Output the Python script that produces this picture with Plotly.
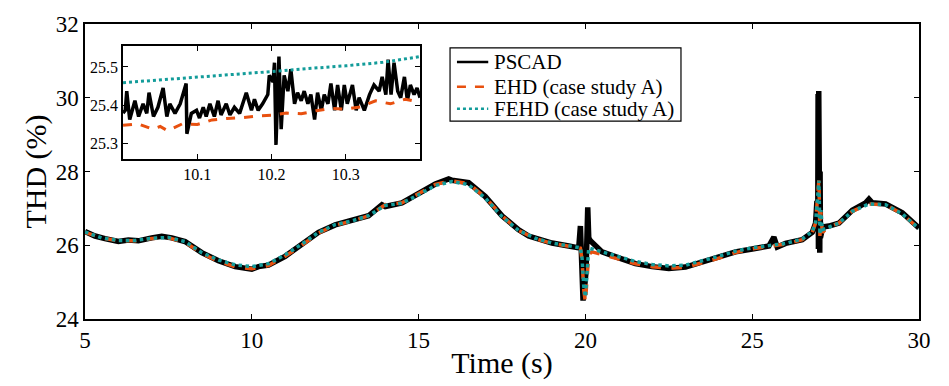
import plotly.graph_objects as go

# ---------------- data ----------------
t_pscad = [5.0, 5.3, 5.6, 6.0, 6.3, 6.6, 7.0, 7.3, 7.6, 8.0, 8.5, 9.0, 9.5, 10.0, 10.2, 10.5,
           11.0, 11.5, 12.0, 12.5, 13.0, 13.5, 13.9, 14.0, 14.5, 15.0, 15.5, 15.9, 16.0, 16.5,
           17.0, 17.5, 18.0, 18.3, 18.5, 19.0, 19.5, 19.8, 19.85, 19.88, 19.93, 19.98, 20.02,
           20.07, 20.1, 20.15, 20.3, 20.5, 21.0, 21.5, 22.0, 22.5, 23.0, 23.5, 24.0, 24.5, 25.0,
           25.5, 25.65, 25.75, 26.0, 26.5, 26.8, 26.9, 26.94, 26.955, 26.965, 26.975, 26.985,
           26.995, 27.005, 27.015, 27.025, 27.035, 27.045, 27.06, 27.08, 27.15, 27.3, 27.6,
           28.0, 28.4, 28.5, 28.6, 29.0, 29.5, 30.0]
thd_pscad = [26.37, 26.25, 26.18, 26.10, 26.14, 26.12, 26.20, 26.24, 26.20, 26.10, 25.80, 25.58,
             25.42, 25.35, 25.42, 25.46, 25.70, 26.02, 26.35, 26.55, 26.67, 26.80, 27.10, 27.05,
             27.15, 27.40, 27.66, 27.80, 27.76, 27.70, 27.32, 26.80, 26.42, 26.25, 26.20, 26.06,
             25.98, 25.93, 26.52, 25.80, 24.50, 24.90, 25.30, 27.03, 26.20, 26.12, 25.98, 25.82,
             25.66, 25.50, 25.42, 25.37, 25.41, 25.54, 25.66, 25.82, 25.90, 25.98, 26.22, 25.95,
             26.05, 26.15, 26.35, 26.60, 27.20, 29.00, 26.50, 30.10, 25.90, 30.18, 25.85, 29.20,
             25.80, 28.00, 26.20, 26.80, 26.35, 26.50, 26.52, 26.60, 26.95, 27.15, 27.25, 27.15,
             27.12, 26.88, 26.47]

t_model = [5.0, 5.5, 6.0, 6.5, 7.0, 7.5, 8.0, 8.5, 9.0, 9.5, 10.0, 10.5, 11.0, 11.5, 12.0, 12.5,
           13.0, 13.5, 14.0, 14.5, 15.0, 15.5, 16.0, 16.5, 17.0, 17.5, 18.0, 18.5, 19.0, 19.5,
           19.85, 19.9, 19.95, 20.0, 20.05, 20.1, 20.2, 20.5, 21.0, 21.5, 22.0, 22.5, 23.0, 23.5,
           24.0, 24.5, 25.0, 25.5, 26.0, 26.5, 26.8, 26.9, 26.95, 27.0, 27.03, 27.06, 27.1, 27.3,
           27.6, 28.0, 28.5, 29.0, 29.5, 30.0]
thd_ehd = [26.35, 26.20, 26.12, 26.12, 26.18, 26.20, 26.08, 25.78, 25.56, 25.42, 25.36, 25.45,
           25.70, 26.00, 26.33, 26.55, 26.65, 26.80, 27.10, 27.15, 27.40, 27.65, 27.75, 27.67,
           27.30, 26.80, 26.40, 26.18, 26.05, 25.97, 25.92, 25.60, 24.80, 24.45, 25.00, 25.75,
           25.82, 25.75, 25.62, 25.50, 25.42, 25.38, 25.40, 25.52, 25.65, 25.80, 25.90, 25.97,
           26.03, 26.15, 26.35, 26.60, 27.30, 27.78, 26.25, 26.90, 26.35, 26.50, 26.60, 26.92,
           27.12, 27.10, 26.85, 26.45]
thd_fehd = [26.36, 26.20, 26.13, 26.13, 26.19, 26.21, 26.10, 25.80, 25.60, 25.47, 25.42, 25.50,
            25.74, 26.03, 26.35, 26.56, 26.66, 26.80, 27.08, 27.14, 27.37, 27.62, 27.73, 27.64,
            27.28, 26.78, 26.40, 26.19, 26.06, 25.98, 25.93, 25.65, 24.90, 24.60, 25.20, 25.92,
            25.90, 25.82, 25.68, 25.56, 25.48, 25.44, 25.46, 25.57, 25.70, 25.84, 25.93, 25.99,
            26.05, 26.17, 26.37, 26.62, 27.30, 27.75, 26.30, 26.95, 26.42, 26.50, 26.60, 26.92,
            27.12, 27.10, 26.85, 26.45]

# inset (zoom 10.0 - 10.4 s)
t_in_pscad = [10.000, 10.003, 10.005, 10.009, 10.016, 10.021, 10.027, 10.032, 10.035, 10.041,
              10.047, 10.054, 10.059, 10.063, 10.070, 10.077, 10.085, 10.086, 10.092, 10.099,
              10.103, 10.108, 10.112, 10.117, 10.123, 10.128, 10.132, 10.139, 10.144, 10.150,
              10.157, 10.166, 10.173, 10.177, 10.182, 10.188, 10.195, 10.197, 10.202, 10.204,
              10.206, 10.210, 10.213, 10.217, 10.222, 10.226, 10.231, 10.235, 10.240, 10.244,
              10.249, 10.253, 10.258, 10.262, 10.267, 10.271, 10.276, 10.280, 10.285, 10.289,
              10.294, 10.298, 10.302, 10.309, 10.314, 10.318, 10.325, 10.332, 10.338, 10.345,
              10.349, 10.354, 10.357, 10.361, 10.365, 10.370, 10.374, 10.379, 10.383, 10.387,
              10.392, 10.396, 10.400]
thd_in_pscad = [25.380, 25.387, 25.437, 25.363, 25.412, 25.371, 25.404, 25.379, 25.433, 25.371,
                25.395, 25.445, 25.371, 25.404, 25.379, 25.404, 25.457, 25.326, 25.379, 25.387,
                25.367, 25.395, 25.371, 25.404, 25.371, 25.412, 25.375, 25.404, 25.375, 25.395,
                25.379, 25.433, 25.387, 25.416, 25.387, 25.404, 25.428, 25.478, 25.461, 25.511,
                25.297, 25.527, 25.338, 25.478, 25.437, 25.494, 25.404, 25.433, 25.412, 25.437,
                25.404, 25.428, 25.363, 25.433, 25.387, 25.428, 25.404, 25.457, 25.387, 25.453,
                25.387, 25.453, 25.404, 25.453, 25.387, 25.420, 25.387, 25.428, 25.453, 25.437,
                25.474, 25.428, 25.519, 25.428, 25.511, 25.437, 25.420, 25.474, 25.412, 25.453,
                25.428, 25.445, 25.420]

t_in_ehd = [10.000, 10.020, 10.040, 10.050, 10.060, 10.080, 10.100, 10.120, 10.140, 10.160,
            10.180, 10.200, 10.220, 10.240, 10.260, 10.280, 10.300, 10.320, 10.340, 10.360,
            10.380, 10.400]
thd_in_ehd = [25.348, 25.352, 25.338, 25.345, 25.334, 25.352, 25.350, 25.362, 25.366, 25.368,
              25.372, 25.374, 25.380, 25.378, 25.386, 25.392, 25.390, 25.396, 25.412, 25.404,
              25.416, 25.408]

t_in_fehd = [10.000, 10.050, 10.100, 10.150, 10.200, 10.250, 10.300, 10.350, 10.400]
thd_in_fehd = [25.459, 25.466, 25.474, 25.480, 25.488, 25.496, 25.503, 25.512, 25.527]

x_ticks = [5, 10, 15, 20, 25, 30]
y_ticks = [24, 26, 28, 30, 32]
x_ticks_in = [10.1, 10.2, 10.3]
y_ticks_in = [25.3, 25.4, 25.5]
series_names = ["PSCAD", "EHD (case study A)", "FEHD (case study A)"]

# ---------------- styles ----------------
BLACK = "#000000"
ORANGE = "#E8500F"
TEAL = "#139C9A"
FONT = "Liberation Serif"
colors = [BLACK, ORANGE, TEAL]
dashes = ["solid", "dash", "dot"]

fig = go.Figure()

# main axes
fig.add_trace(go.Scatter(x=t_pscad, y=thd_pscad, mode="lines", showlegend=False,
                         line=dict(color=BLACK, width=5.5)))
fig.add_trace(go.Scatter(x=t_model, y=thd_ehd, mode="lines", showlegend=False,
                         line=dict(color=ORANGE, width=3.5, dash="dash")))
fig.add_trace(go.Scatter(x=t_model, y=thd_fehd, mode="lines", showlegend=False,
                         line=dict(color=TEAL, width=3.5, dash="dot")))

# inset axes
fig.add_trace(go.Scatter(x=t_in_pscad, y=thd_in_pscad, mode="lines", name=series_names[0],
                         showlegend=False, xaxis="x2", yaxis="y2",
                         line=dict(color=BLACK, width=3.5)))
fig.add_trace(go.Scatter(x=t_in_ehd, y=thd_in_ehd, mode="lines", name=series_names[1],
                         showlegend=False, xaxis="x2", yaxis="y2",
                         line=dict(color=ORANGE, width=3, dash="dash")))
fig.add_trace(go.Scatter(x=t_in_fehd, y=thd_in_fehd, mode="lines", name=series_names[2],
                         showlegend=False, xaxis="x2", yaxis="y2",
                         line=dict(color=TEAL, width=3, dash="dot")))

axis_common = dict(showgrid=False, zeroline=False, showline=True, linecolor="black",
                   linewidth=1.5, mirror="ticks", ticks="inside", tickcolor="black",
                   ticklen=5, tickwidth=1)

# legend (drawn as a boxed key in paper coordinates)
leg_x0, leg_x1, leg_y0, leg_y1 = 0.4377, 0.7146, 0.671, 0.919
row_y = [0.871, 0.787, 0.713]
shapes = [dict(type="rect", xref="paper", yref="paper", x0=leg_x0, x1=leg_x1,
               y0=leg_y0, y1=leg_y1, line=dict(color="black", width=1.2),
               fillcolor="white", layer="above")]
annotations = []
for name, col, dsh, yy in zip(series_names, colors, dashes, row_y):
    shapes.append(dict(type="line", xref="paper", yref="paper", x0=0.446, x1=0.4835,
                       y0=yy, y1=yy, line=dict(color=col, width=2.5, dash=dsh), layer="above"))
    annotations.append(dict(xref="paper", yref="paper", x=0.488, y=yy, text=name,
                            showarrow=False, xanchor="left", yanchor="middle",
                            font=dict(size=21, family=FONT, color="black")))

fig.update_layout(
    width=949, height=386,
    margin=dict(l=85, r=30, t=15, b=61),
    paper_bgcolor="white", plot_bgcolor="white",
    font=dict(family=FONT, color="black"),
    showlegend=False,
    shapes=shapes, annotations=annotations,
    xaxis=dict(**axis_common, range=[5, 30], tickvals=x_ticks,
               tickfont=dict(size=23, family=FONT, color="black"),
               title=dict(text="Time (s)", font=dict(size=30, family=FONT), standoff=0)),
    yaxis=dict(**axis_common, range=[24, 32], tickvals=y_ticks,
               tickfont=dict(size=23, family=FONT, color="black"),
               title=dict(text="THD (%)", font=dict(size=30, family=FONT), standoff=0)),
    xaxis2=dict(**axis_common, domain=[0.0456, 0.4017], anchor="y2", range=[10.0, 10.4],
                tickvals=x_ticks_in, tickfont=dict(size=16, family=FONT, color="black")),
    yaxis2=dict(**axis_common, domain=[0.542, 0.926], anchor="x2", range=[25.26, 25.555],
                tickvals=y_ticks_in, tickfont=dict(size=16, family=FONT, color="black")),
)

fig.write_html("out.html")
